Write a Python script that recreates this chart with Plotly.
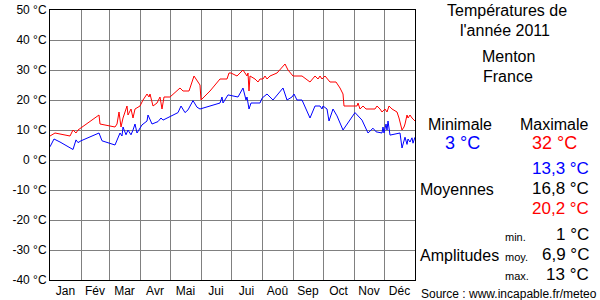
import plotly.graph_objects as go

# ---- data (day of year, °C) ----
max_days = [0, 5, 20, 23, 26, 28, 49, 50, 65, 67, 69, 71, 73, 77, 78, 81, 83, 85, 90, 93, 97, 99, 100,
            103, 107, 110, 112, 114, 116, 120, 130, 133, 139, 144, 150, 151, 160, 170, 177, 179, 181,
            187, 193, 197, 198, 199, 200, 205, 208, 210, 213, 215, 217, 220, 227, 232, 235, 238, 243,
            248, 252, 260, 265, 268, 270, 272, 275, 280, 286, 290, 293, 294, 307, 308, 310, 313, 316,
            325, 327, 330, 332, 335, 337, 339, 342, 347, 349, 352, 354, 355, 357, 358, 360, 362, 365]
max_vals = [8, 9, 8, 10, 9, 10, 15, 12, 11, 12, 16, 11, 14, 18, 15, 17, 14, 17, 18, 20, 22, 21, 22,
            18, 19, 21, 17, 21, 21, 21, 24, 23, 23, 28, 25, 20, 23, 27, 27, 29, 29,
            28, 30, 28, 29, 23, 28, 27, 26, 27, 27, 28, 27, 28, 29, 31, 32, 30, 28,
            28, 28, 26, 28, 27, 28, 27, 28, 26, 26, 24, 22, 18, 18, 19, 17, 18, 17,
            17, 18, 17, 16, 17, 16, 18, 17, 16, 14, 10, 11, 12, 15, 14, 15, 14, 13]

min_days = [0, 4, 10, 23, 26, 28, 31, 49, 52, 65, 70, 72, 73, 76, 78, 81, 83, 85, 87, 90, 92, 97, 98,
            102, 108, 111, 113, 128, 131, 135, 138, 143, 147, 150, 160, 170, 172, 173, 178, 183, 188,
            193, 196, 197, 199, 201, 210, 212, 217, 220, 223, 233, 237, 242, 244, 247, 252, 260, 265,
            270, 272, 273, 277, 279, 283, 287, 293, 305, 308, 312, 318, 323, 326, 332, 333, 334, 336,
            337, 338, 340, 350, 352, 355, 357, 358, 360, 362, 363, 365]
min_vals = [4.4, 7, 6, 3.5, 6.7, 5.8, 6.4, 9, 6.4, 5, 9, 8, 11, 8.4, 10, 8.4, 10, 12, 9, 10.6, 11.7, 13, 15,
            12, 12.8, 14, 13.3, 15.8, 18, 15.8, 16.7, 19.8, 17.6, 17, 18, 19, 21, 19, 21.7, 21.3, 21,
            24, 20, 21, 17, 19, 19, 20.6, 22, 21, 20, 24, 20, 21, 22, 20, 20, 14, 18,
            18, 17, 18, 17, 13, 17, 14.7, 10, 15.8, 14.7, 13.3, 9, 10.6, 9.4, 9, 11, 9, 12,
            10, 13, 8.3, 9, 4, 7.6, 5.2, 7, 6, 7.4, 5.6, 7.6]

month_starts = [0, 31, 59, 90, 120, 151, 181, 212, 243, 273, 304, 334, 365]
month_labels = ["Jan", "Fév", "Mar", "Avr", "Mai", "Jui", "Jui", "Aoû", "Sep", "Oct", "Nov", "Déc"]
y_ticks = [50, 40, 30, 20, 10, 0, -10, -20, -30, -40]
y_labels = [f"{v} °C" for v in y_ticks]

title_lines = ["Températures de", "l'année 2011"]
place_lines = ["Menton", "France"]
extreme_texts = ["3 °C", "32 °C"]
mean_texts = ["13,3 °C", "16,8 °C", "20,2 °C"]
ampl_texts = ["1 °C", "6,9 °C", "13 °C"]
source_text = "Source : www.incapable.fr/meteo"

FONT = "Liberation Sans, Arial, sans-serif"
W, H = 600, 300
L, R, T, B = 50, 185, 10, 20
PW, PH = W - L - R, H - T - B

mid_months = [(month_starts[i] + month_starts[i + 1]) / 2 for i in range(12)]

fig = go.Figure()
fig.add_trace(go.Scatter(x=max_days, y=max_vals, mode="lines",
                         line=dict(color="#ff0000", width=1), hoverinfo="skip"))
fig.add_trace(go.Scatter(x=min_days, y=min_vals, mode="lines",
                         line=dict(color="#0000ff", width=1), hoverinfo="skip"))


def px(x):
    return (x - L) / PW


def py(y):
    return (H - B - y) / PH


ann = []


def add(text, x, y, size, color="#000000", anchor="center"):
    ann.append(dict(text=text, x=px(x), y=py(y), xref="paper", yref="paper",
                    xanchor=anchor, yanchor="middle", showarrow=False, borderpad=0,
                    font=dict(family=FONT, size=size, color=color)))


add(title_lines[0], 507, 10, 16)
add(title_lines[1], 505, 30, 16)
add(place_lines[0], 508, 57, 16)
add(place_lines[1], 508, 76, 16)
add("Minimale", 460, 124, 16)
add("Maximale", 554, 124, 16)
add(extreme_texts[0], 462, 143, 18, "#0000ff")
add(extreme_texts[1], 554, 143, 18, "#ff0000")
add(mean_texts[0], 590, 168, 17, "#0000ff", "right")
add("Moyennes", 419, 189, 16, anchor="left")
add(mean_texts[1], 590, 188, 17, anchor="right")
add(mean_texts[2], 590, 208, 17, "#ff0000", "right")
add("min.", 504, 237, 11, anchor="left")
add(ampl_texts[0], 590, 234, 17, anchor="right")
add("Amplitudes", 419, 255, 16, anchor="left")
add("moy.", 504, 257, 11, anchor="left")
add(ampl_texts[1], 590, 254, 17, anchor="right")
add("max.", 504, 276, 11, anchor="left")
add(ampl_texts[2], 590, 274, 17, anchor="right")
add(source_text, 420, 294, 12, anchor="left")

fig.update_layout(
    width=W, height=H,
    margin=dict(l=L, r=R, t=T, b=B, autoexpand=False),
    paper_bgcolor="white", plot_bgcolor="white",
    showlegend=False,
    font=dict(family=FONT, size=12, color="black"),
    annotations=ann,
)
fig.update_xaxes(
    range=[0, 365], tickmode="array", tickvals=mid_months, ticktext=month_labels,
    showgrid=False, zeroline=False, ticks="", automargin=False,
    showline=True, linecolor="black", linewidth=1, mirror=True,
    tickfont=dict(family=FONT, size=12, color="black"),
    minor=dict(tickmode="array", tickvals=month_starts[1:-1], showgrid=True,
               gridcolor="#808080", gridwidth=1, ticks=""),
)
fig.update_yaxes(
    range=[-40, 50], tickmode="array", tickvals=y_ticks, ticktext=y_labels,
    showgrid=True, gridcolor="#808080", gridwidth=1, zeroline=False, ticks="",
    automargin=False,
    showline=True, linecolor="black", linewidth=1, mirror=True,
    tickfont=dict(family=FONT, size=12, color="black"),
)

fig.write_html("out.html", config={"displayModeBar": False})
